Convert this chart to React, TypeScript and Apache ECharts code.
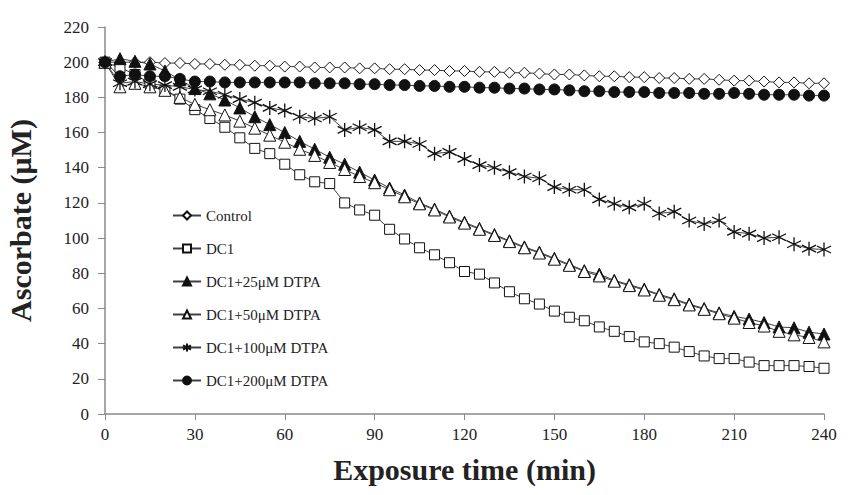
import { useEffect, useRef } from 'react'
import * as echarts from 'echarts'

// exposure time in minutes
const times = [
  0, 5, 10, 15, 20, 25, 30, 35, 40, 45, 50, 55, 60, 65, 70, 75, 80, 85, 90, 95, 100, 105, 110, 115, 120,
  125, 130, 135, 140, 145, 150, 155, 160, 165, 170, 175, 180, 185, 190, 195, 200, 205, 210, 215, 220,
  225, 230, 235, 240,
]

// ascorbate (uM)
const control = [
  200, 200, 200, 200, 199.5, 199.5, 199, 199, 198.5, 198.5, 198, 198, 197.5, 197.5, 197, 197, 197, 196.5,
  196.5, 196, 196, 195.5, 195.5, 195, 195, 194.5, 194.5, 194, 194, 193.5, 193, 193, 192.5, 192, 192, 191.5,
  191.5, 191, 191, 190.5, 190.5, 190, 189.5, 189.5, 189, 188.5, 188.5, 188, 188,
]
const dc1 = [
  200, 197, 193, 188, 184, 179, 173, 168, 163, 157, 151, 148, 142, 136, 132, 131, 120, 116, 113, 105, 99.5,
  94.5, 90.5, 86, 81, 79.5, 74.5, 69.5, 65.5, 62.5, 58.5, 55, 53, 49.5, 47, 44, 41, 40, 38, 35.5, 33, 31.5,
  31.5, 29.5, 27.5, 27.5, 27.5, 27, 26,
]
const dtpa25 = [
  200, 202, 200.5, 199, 195, 190, 185, 182, 178.5, 174, 169, 164.5, 160, 155, 150.5, 146, 142, 137.5, 133,
  128.5, 124.5, 120, 116.5, 112.5, 109, 105.5, 102, 98.5, 95, 92, 88.5, 85, 81.5, 79.5, 76, 73.5, 71, 68,
  65.5, 62.5, 60, 57.5, 55.5, 54, 52, 49.5, 49, 46.5, 45.5,
]
const dtpa50 = [
  200, 186, 188, 186, 184, 180, 176, 173, 170, 166.5, 162.5, 158.5, 154.5, 150.5, 147, 143, 139, 135, 131.5,
  127.5, 123.5, 119.5, 116, 112, 108.5, 105, 101.5, 98, 94.5, 91.5, 88, 84.5, 81, 78.5, 75.5, 73, 70.5, 67.5,
  65, 62, 59.5, 57, 54.5, 52, 50, 47, 45, 43.5, 41,
]
const dtpa100 = [
  200, 188, 189, 187.5, 187, 186, 184.5, 183.5, 181.5, 179, 177, 174, 172.5, 169, 168, 169, 161.5, 163,
  161.5, 155, 155, 153.5, 148, 149, 145, 141.5, 140, 137.5, 135, 134, 129, 127.5, 127.5, 122, 119.5, 117.5,
  119.5, 114, 115, 110, 108, 110, 103.5, 102.5, 100, 100.5, 96.5, 94, 93.5,
]
const dtpa200 = [
  200, 192, 193, 192, 192, 190.5, 189, 189, 188.5, 188.5, 188.5, 188.5, 188.5, 188.5, 188, 188, 188, 187.5,
  187.5, 187, 187, 186.5, 186.5, 186, 186, 185.5, 185.5, 185, 185, 184.5, 184.5, 184, 183.5, 183.5, 183, 183,
  183, 182.5, 182.5, 182.5, 182, 182, 182.5, 182, 181.5, 181.5, 181.5, 181, 181,
]

const seriesNames = [
  'Control',
  'DC1',
  'DC1+25μM DTPA',
  'DC1+50μM DTPA',
  'DC1+100μM DTPA',
  'DC1+200μM DTPA',
]

const serif = '"Liberation Serif", "Times New Roman", serif'
const asterisk = 'path://M5,0L5,10M0.67,2.5L9.33,7.5M0.67,7.5L9.33,2.5'

function App() {
  const chartRef = useRef<HTMLDivElement>(null)

  useEffect(() => {
    if (!chartRef.current) return
    const chart = echarts.init(chartRef.current, null, { renderer: 'svg' })

    const pairs = (vals: number[]) => times.map((t, i) => [t, vals[i]])

    const makeSeries = (
      name: string,
      vals: number[],
      symbol: string,
      size: number,
      fill: string,
    ) => ({
      name,
      type: 'line',
      data: pairs(vals),
      symbol,
      symbolSize: size,
      showAllSymbol: true,
      lineStyle: { color: '#404040', width: 1 },
      itemStyle: { color: fill, borderColor: '#111', borderWidth: 1 },
    })

    chart.setOption({
      animation: false,
      backgroundColor: '#fff',
      textStyle: { fontFamily: serif },
      grid: { left: 105, right: 27, top: 27, bottom: 81, outerBoundsMode: 'none' },
      legend: {
        orient: 'vertical',
        left: 167,
        top: 203,
        itemWidth: 28,
        itemHeight: 10,
        itemGap: 18,
        data: seriesNames,
        textStyle: { fontFamily: serif, fontSize: 15, color: '#222' },
      },
      xAxis: {
        type: 'value',
        min: 0,
        max: 240,
        interval: 30,
        name: 'Exposure time (min)',
        nameLocation: 'middle',
        nameGap: 40,
        nameTextStyle: { fontFamily: serif, fontSize: 30, fontWeight: 'bold', color: '#222' },
        axisLine: { lineStyle: { color: '#8a8a8a', width: 1.5 } },
        axisTick: { length: 6, lineStyle: { color: '#8a8a8a' } },
        axisLabel: { fontFamily: serif, fontSize: 17, color: '#222', margin: 12 },
        splitLine: { show: false },
      },
      yAxis: {
        type: 'value',
        min: 0,
        max: 220,
        interval: 20,
        name: 'Ascorbate (μM)',
        nameLocation: 'middle',
        nameGap: 70,
        nameTextStyle: { fontFamily: serif, fontSize: 30, fontWeight: 'bold', color: '#222' },
        axisLine: { show: true, lineStyle: { color: '#8a8a8a', width: 1.5 } },
        axisTick: { show: true, length: 7, lineStyle: { color: '#8a8a8a' } },
        axisLabel: { fontFamily: serif, fontSize: 17, color: '#222', margin: 16 },
        splitLine: { show: false },
      },
      series: [
        makeSeries(seriesNames[0], control, 'diamond', 11, '#fff'),
        makeSeries(seriesNames[1], dc1, 'rect', 10, '#fff'),
        makeSeries(seriesNames[2], dtpa25, 'triangle', 12, '#111'),
        makeSeries(seriesNames[3], dtpa50, 'triangle', 12, '#fff'),
        {
          ...makeSeries(seriesNames[4], dtpa100, asterisk, 14, 'rgba(0,0,0,0)'),
          itemStyle: { color: 'rgba(0,0,0,0)', borderColor: '#111', borderWidth: 1.3 },
        },
        makeSeries(seriesNames[5], dtpa200, 'circle', 11, '#111'),
      ],
    })

    return () => {
      chart.dispose()
    }
  }, [])

  return (
    <div
      ref={chartRef}
      style={{ position: 'absolute', left: 0, top: 0, width: '851px', height: '495px' }}
    ></div>
  )
}

export default App
